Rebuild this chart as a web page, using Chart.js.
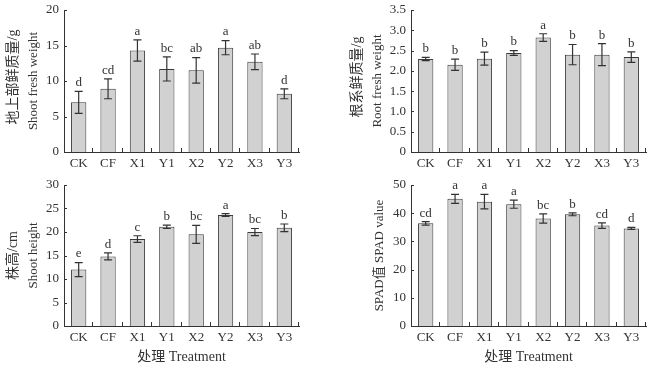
<!DOCTYPE html>
<html>
<head>
<meta charset="utf-8">
<script src="https://cdn.jsdelivr.net/npm/chart.js@4"></script>
<style>
  body { margin: 0; background: #fff; }
  #wrap { position: relative; width: 656px; height: 370px; }
  canvas { position: absolute; }
</style>
</head>
<body>
<div id="wrap">
  <canvas id="c1" width="328" height="178" style="left:0;top:0"></canvas>
  <canvas id="c2" width="328" height="178" style="left:328px;top:0"></canvas>
  <canvas id="c3" width="328" height="192" style="left:0;top:178px"></canvas>
  <canvas id="c4" width="328" height="192" style="left:328px;top:178px"></canvas>
</div>
<script>
const treatments = ['CK', 'CF', 'X1', 'Y1', 'X2', 'Y2', 'X3', 'Y3'];

// shoot fresh weight (g)
const shootWeight = [7.0, 8.9, 14.3, 11.7, 11.5, 14.7, 12.7, 8.2];
const shootWeightErr = [1.55, 1.4, 1.5, 1.7, 1.8, 1.0, 1.1, 0.7];
const shootWeightSig = ['d', 'cd', 'a', 'bc', 'ab', 'a', 'ab', 'd'];

// root fresh weight (g)
const rootWeight = [2.29, 2.15, 2.30, 2.44, 2.82, 2.40, 2.40, 2.34];
const rootWeightErr = [0.04, 0.14, 0.16, 0.06, 0.095, 0.25, 0.27, 0.13];
const rootWeightSig = ['b', 'b', 'b', 'b', 'a', 'b', 'b', 'b'];

// shoot height (cm)
const shootHeight = [12.0, 14.8, 18.5, 21.1, 19.5, 23.6, 20.0, 20.9];
const shootHeightErr = [1.5, 0.75, 0.7, 0.35, 1.9, 0.3, 0.75, 0.8];
const shootHeightSig = ['e', 'd', 'c', 'b', 'bc', 'a', 'bc', 'b'];

// SPAD value
const spadValue = [36.4, 45.1, 44.1, 43.2, 38.1, 39.6, 35.6, 34.6];
const spadValueErr = [0.6, 1.6, 2.6, 1.45, 1.65, 0.5, 1.0, 0.35];
const spadValueSig = ['cd', 'a', 'a', 'a', 'bc', 'b', 'cd', 'd'];

const serif = "'Liberation Serif', 'Noto Sans CJK SC', serif";
const ink = '#333';

Chart.defaults.font.family = serif;
Chart.defaults.color = ink;

// error bars, letters, inner ticks and y titles
const panelDecor = {
    id: 'panelDecor',
    afterDatasetsDraw(chart, args, opts) {
        const ctx = chart.ctx;
        const ys = chart.scales.y;
        const meta = chart.getDatasetMeta(0);
        ctx.save();
        ctx.strokeStyle = ink;
        ctx.lineWidth = 1.2;
        ctx.fillStyle = ink;
        ctx.font = '13px ' + serif;
        ctx.textAlign = 'center';
        ctx.textBaseline = 'bottom';
        meta.data.forEach((bar, i) => {
            const v = opts.values[i];
            const e = opts.errors[i];
            const yHi = ys.getPixelForValue(v + e);
            const yLo = ys.getPixelForValue(v - e);
            const x = bar.x;
            ctx.beginPath();
            ctx.moveTo(x, yHi); ctx.lineTo(x, yLo);
            ctx.moveTo(x - 4, yHi); ctx.lineTo(x + 4, yHi);
            ctx.moveTo(x - 4, yLo); ctx.lineTo(x + 4, yLo);
            ctx.stroke();
            ctx.fillText(opts.letters[i], x, yHi - 2);
        });
        ctx.restore();
    },
    afterDraw(chart, args, opts) {
        const ctx = chart.ctx;
        const area = chart.chartArea;
        const ys = chart.scales.y;
        ctx.save();
        ctx.strokeStyle = ink;
        ctx.lineWidth = 1;
        ctx.beginPath();
        ys.ticks.forEach(t => {
            if (t.value === 0) return;
            const y = Math.round(ys.getPixelForValue(t.value)) + 0.5;
            ctx.moveTo(area.left, y); ctx.lineTo(area.left + 3, y);
        });
        const n = treatments.length;
        const step = (area.right - area.left) / n;
        for (let i = 1; i <= n; i++) {
            const x = Math.round(area.left + i * step) - 0.5;
            ctx.moveTo(x, area.bottom); ctx.lineTo(x, area.bottom - 4);
        }
        ctx.stroke();

        // y axis titles, one rotated line each
        ctx.fillStyle = ink;
        ctx.textAlign = 'center';
        ctx.textBaseline = 'middle';
        const cy = (area.top + area.bottom) / 2;
        opts.titles.forEach(tl => {
            ctx.save();
            ctx.translate(tl.x, cy + (tl.dy || 0));
            ctx.rotate(-Math.PI / 2);
            ctx.font = tl.size + 'px ' + serif;
            ctx.fillText(tl.text, 0, 0);
            ctx.restore();
        });
        ctx.restore();
    }
};

function makePanel(id, values, errors, letters, cfg) {
    const canvas = document.getElementById(id);
    const W = canvas.width, H = canvas.height;
    return new Chart(canvas.getContext('2d'), {
        type: 'bar',
        data: {
            labels: treatments,
            datasets: [{
                data: values,
                backgroundColor: '#d1d1d1',
                borderColor: '#3a3a3a',
                borderWidth: 1,
                categoryPercentage: 1,
                barPercentage: 0.52
            }]
        },
        options: {
            responsive: false,
            animation: false,
            devicePixelRatio: 1,
            layout: {
                padding: { left: 0, top: cfg.area.top, right: W - cfg.area.right, bottom: 0 }
            },
            plugins: {
                legend: { display: false },
                tooltip: { enabled: false },
                panelDecor: { values: values, errors: errors, letters: letters, titles: cfg.titles }
            },
            scales: {
                x: {
                    grid: { display: false, drawTicks: false },
                    border: { display: true, color: ink, width: 1 },
                    ticks: { font: { size: 13 }, padding: 4, color: ink, maxRotation: 0 },
                    title: {
                        display: !!cfg.xTitle,
                        text: cfg.xTitle || '',
                        font: { size: 14 },
                        color: ink,
                        padding: { top: 0, bottom: 4 }
                    },
                    afterFit: function(scale) {
                        scale.height = H - cfg.area.bottom;
                        scale.paddingLeft = 0;
                        scale.paddingRight = 0;
                    }
                },
                y: {
                    min: 0,
                    max: cfg.max,
                    grid: { display: false, drawTicks: false },
                    border: { display: true, color: ink, width: 1 },
                    ticks: {
                        stepSize: cfg.step,
                        font: { size: 13 },
                        padding: 5,
                        color: ink,
                        callback: cfg.fmt || function(value) { return value; }
                    },
                    afterFit: function(scale) {
                        scale.width = cfg.area.left;
                        scale.paddingTop = 0;
                        scale.paddingBottom = 0;
                    }
                }
            }
        },
        plugins: [panelDecor]
    });
}

makePanel('c1', shootWeight, shootWeightErr, shootWeightSig, {
    area: { left: 64, right: 299, top: 10, bottom: 152 },
    max: 20, step: 5,
    titles: [
        { text: '地上部鲜质量/g', x: 13, size: 14, dy: -4 },
        { text: 'Shoot fresh weight', x: 34, size: 13 }
    ]
});

makePanel('c2', rootWeight, rootWeightErr, rootWeightSig, {
    area: { left: 83, right: 318, top: 10, bottom: 152 },
    max: 3.5, step: 0.5,
    fmt: function(value) { return value === 0 ? '0' : value.toFixed(1); },
    titles: [
        { text: '根系鲜质量/g', x: 29, size: 14, dy: -4 },
        { text: 'Root fresh weight', x: 50, size: 13 }
    ]
});

makePanel('c3', shootHeight, shootHeightErr, shootHeightSig, {
    area: { left: 64, right: 299, top: 7, bottom: 148 },
    max: 30, step: 5,
    xTitle: '处理 Treatment',
    titles: [
        { text: '株高/cm', x: 13, size: 14 },
        { text: 'Shoot height', x: 34, size: 13 }
    ]
});

makePanel('c4', spadValue, spadValueErr, spadValueSig, {
    area: { left: 83, right: 318, top: 7, bottom: 148 },
    max: 50, step: 10,
    xTitle: '处理 Treatment',
    titles: [
        { text: 'SPAD值 SPAD value', x: 52, size: 13 }
    ]
});
</script>
</body>
</html>
